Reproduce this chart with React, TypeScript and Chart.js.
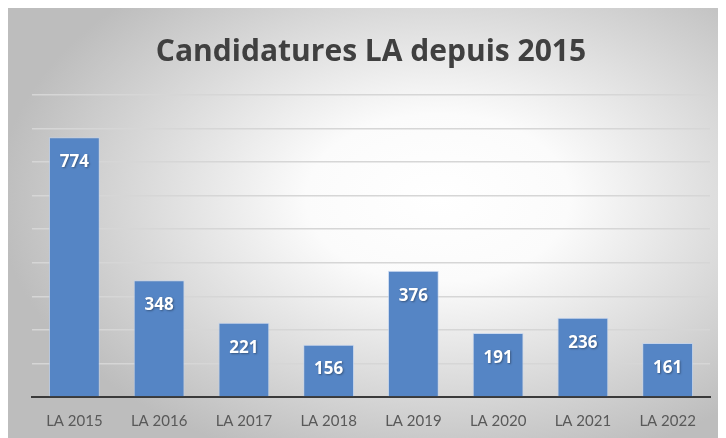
import React, { useEffect, useRef } from "react";
import { Chart, registerables } from "chart.js";

Chart.register(...registerables);

const categories = ["LA 2015", "LA 2016", "LA 2017", "LA 2018", "LA 2019", "LA 2020", "LA 2021", "LA 2022"];
const values = [774, 348, 221, 156, 376, 191, 236, 161];
const titleText = "Candidatures LA depuis 2015";
const yMax = 900;
const yStep = 100;

const backgroundPlugin = {
  id: "bgGradient",
  beforeDraw(chart: any) {
    const { ctx, width, height } = chart;
    ctx.save();
    const cx = 430, cy = 190, rx = 440, ry = 280;
    ctx.translate(cx, cy);
    ctx.scale(rx / ry, 1);
    const g = ctx.createRadialGradient(0, 0, 0, 0, 0, ry);
    g.addColorStop(0, "#ffffff");
    g.addColorStop(0.3, "#fbfbfb");
    g.addColorStop(1, "#bdbdbd");
    ctx.fillStyle = g;
    ctx.fillRect(-cx * (ry / rx) - 10, -cy - 10, width * (ry / rx) + 20, height + 20);
    ctx.restore();
  },
};

const valueLabelPlugin = {
  id: "valueLabels",
  afterDatasetsDraw(chart: any) {
    const { ctx } = chart;
    const meta = chart.getDatasetMeta(0);
    ctx.save();
    ctx.font = "bold 17px 'Open Sans', Lato, sans-serif";
    ctx.fillStyle = "#ffffff";
    ctx.textAlign = "center";
    ctx.textBaseline = "middle";
    ctx.shadowColor = "rgba(0,0,0,0.35)";
    ctx.shadowBlur = 2;
    ctx.shadowOffsetX = 1;
    ctx.shadowOffsetY = 1;
    meta.data.forEach((bar: any, i: number) => {
      ctx.fillText(String(values[i]), bar.x, bar.y + 25);
    });
    ctx.restore();
  },
};

export default function App() {
  const ref = useRef<HTMLCanvasElement | null>(null);
  useEffect(() => {
    if (!ref.current) return;
    const chart = new Chart(ref.current, {
      type: "bar",
      data: {
        labels: categories,
        datasets: [
          {
            data: values,
            backgroundColor: "#5585c5",
            borderColor: "rgba(190,210,240,0.7)",
            borderWidth: 1,
            barPercentage: 0.6,
            categoryPercentage: 1,
          },
        ],
      },
      options: {
        animation: false,
        responsive: false,
        layout: { padding: { left: 24, right: 16, top: 0, bottom: -7 } },
        plugins: {
          legend: { display: false },
          tooltip: { enabled: false },
          title: {
            display: true,
            text: titleText,
            color: "#404040",
            font: { family: "'Open Sans', Lato, sans-serif", size: 30, weight: "bold" },
            padding: { top: 26, bottom: 25 },
          },
        },
        scales: {
          x: {
            grid: { display: false, drawTicks: false },
            border: { display: true, color: "#3a3a3a", width: 2 },
            ticks: {
              color: "#595959",
              font: { family: "Lato, 'Open Sans', sans-serif", size: 15 },
              padding: 15,
            },
          },
          y: {
            min: 0,
            max: yMax,
            ticks: { display: false, stepSize: yStep },
            grid: { color: "#d6d6d6", lineWidth: 1.5, drawTicks: false },
            border: { display: false },
          },
        },
      },
      plugins: [backgroundPlugin, valueLabelPlugin],
    });
    return () => chart.destroy();
  }, []);
  return <canvas ref={ref} width={718} height={430} style={{ display: "block" }} />;
}
